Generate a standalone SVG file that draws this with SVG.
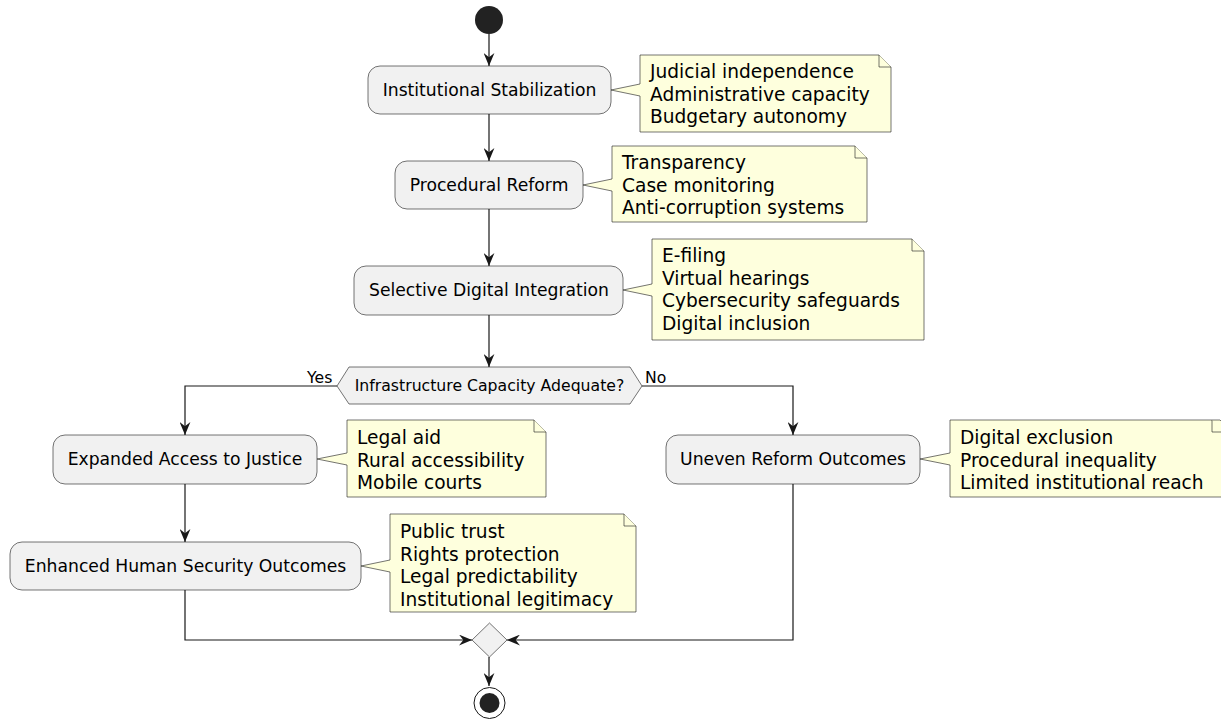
<svg xmlns="http://www.w3.org/2000/svg" width="1221" height="719" viewBox="0 0 1221 719">
<style>
.box{fill:#F1F1F1;stroke:#181818;stroke-width:0.6}
.note{fill:#FEFFDD;stroke:#181818;stroke-width:0.6}
.bt{font-family:"DejaVu Sans",sans-serif;font-size:17.2px;fill:#000;text-anchor:middle}
.nt{font-family:"DejaVu Sans",sans-serif;font-size:18.6px;fill:#000}
.ht{font-family:"DejaVu Sans",sans-serif;font-size:15.7px;fill:#000;text-anchor:middle}
.lt{font-family:"DejaVu Sans",sans-serif;font-size:15.7px;fill:#000}
.edge{fill:none;stroke:#181818;stroke-width:1.2}
</style>
<defs>
<marker id="ah" viewBox="0 0 12 10" refX="12" refY="5" markerWidth="13" markerHeight="11" markerUnits="userSpaceOnUse" orient="auto">
<path d="M0,0 L12,5 L0,10 L4,5 Z" fill="#181818"/>
</marker>
</defs>
<rect width="1221" height="719" fill="#FFFFFF"/>
<g id="connectors">
<path class="edge" d="M489,34 V66" marker-end="url(#ah)"/>
<path class="edge" d="M489,114 V161" marker-end="url(#ah)"/>
<path class="edge" d="M489,209 V266" marker-end="url(#ah)"/>
<path class="edge" d="M489,315 V367" marker-end="url(#ah)"/>
<path class="edge" d="M337,386 H185 V435" marker-end="url(#ah)"/>
<path class="edge" d="M642,386 H793 V435" marker-end="url(#ah)"/>
<path class="edge" d="M185,484 V542" marker-end="url(#ah)"/>
<path class="edge" d="M185,590 V640 H472" marker-end="url(#ah)"/>
<path class="edge" d="M793,484 V640 H507" marker-end="url(#ah)"/>
<path class="edge" d="M489,657 V686" marker-end="url(#ah)"/>
<text class="lt" x="307" y="383">Yes</text>
<text class="lt" x="645" y="383">No</text>
</g>
<g id="start"><circle cx="489" cy="20" r="14" fill="#222222"/></g>
<g id="n1">
<rect class="box" x="368" y="66" width="243" height="48" rx="12"/>
<text class="bt" x="489.5" y="96">Institutional Stabilization</text>
</g>
<g id="note1">
<path class="note" d="M640,55 V84 L611,90 L640,96 V132 H891 V67 L879,55 Z"/>
<path class="note" d="M879,55 V67 H891"/>
<text class="nt" x="650" y="78">Judicial independence</text>
<text class="nt" x="650" y="100.5">Administrative capacity</text>
<text class="nt" x="650" y="123">Budgetary autonomy</text>
</g>
<g id="n2">
<rect class="box" x="395" y="161" width="188" height="48" rx="12"/>
<text class="bt" x="489" y="191">Procedural Reform</text>
</g>
<g id="note2">
<path class="note" d="M612,146 V179 L583,185 L612,191 V222 H867 V158 L855,146 Z"/>
<path class="note" d="M855,146 V158 H867"/>
<text class="nt" x="622" y="169">Transparency</text>
<text class="nt" x="622" y="191.5">Case monitoring</text>
<text class="nt" x="622" y="214">Anti-corruption systems</text>
</g>
<g id="n3">
<rect class="box" x="354" y="266" width="269" height="49" rx="12"/>
<text class="bt" x="489" y="296">Selective Digital Integration</text>
</g>
<g id="note3">
<path class="note" d="M652,239 V284 L623,290 L652,296 V340 H924 V251 L912,239 Z"/>
<path class="note" d="M912,239 V251 H924"/>
<text class="nt" x="662" y="262">E-filing</text>
<text class="nt" x="662" y="284.7">Virtual hearings</text>
<text class="nt" x="662" y="307.4">Cybersecurity safeguards</text>
<text class="nt" x="662" y="330">Digital inclusion</text>
</g>
<g id="decision">
<path class="box" d="M337,386 L349,367 H630 L642,386 L630,404 H349 Z"/>
<text class="ht" x="489.5" y="391">Infrastructure Capacity Adequate?</text>
</g>
<g id="n4">
<rect class="box" x="53" y="435" width="264" height="49" rx="12"/>
<text class="bt" x="185" y="465">Expanded Access to Justice</text>
</g>
<g id="note4">
<path class="note" d="M347,420 V453 L317,459 L347,465 V497 H546 V432 L534,420 Z"/>
<path class="note" d="M534,420 V432 H546"/>
<text class="nt" x="357" y="444">Legal aid</text>
<text class="nt" x="357" y="466.5">Rural accessibility</text>
<text class="nt" x="357" y="489">Mobile courts</text>
</g>
<g id="n5">
<rect class="box" x="666" y="435" width="254" height="49" rx="12"/>
<text class="bt" x="793" y="465">Uneven Reform Outcomes</text>
</g>
<g id="note5">
<path class="note" d="M950,420 V453 L920,459 L950,465 V497 H1232 V432 L1220,420 Z"/>
<path class="note" d="M1212,420 V432 H1224"/>
<text class="nt" x="960" y="444">Digital exclusion</text>
<text class="nt" x="960" y="466.5">Procedural inequality</text>
<text class="nt" x="960" y="489">Limited institutional reach</text>
</g>
<g id="n6">
<rect class="box" x="10" y="542" width="351" height="48" rx="12"/>
<text class="bt" x="185.5" y="572">Enhanced Human Security Outcomes</text>
</g>
<g id="note6">
<path class="note" d="M390,514 V560 L361,566 L390,572 V612 H636 V526 L624,514 Z"/>
<path class="note" d="M624,514 V526 H636"/>
<text class="nt" x="400" y="538">Public trust</text>
<text class="nt" x="400" y="560.7">Rights protection</text>
<text class="nt" x="400" y="583.4">Legal predictability</text>
<text class="nt" x="400" y="606">Institutional legitimacy</text>
</g>
<g id="merge">
<path class="box" d="M489.5,623 L507,640 L489.5,657 L472,640 Z"/>
</g>
<g id="end">
<circle cx="489.5" cy="703" r="15.5" fill="none" stroke="#181818" stroke-width="1"/>
<circle cx="489.5" cy="703" r="10" fill="#222222"/>
</g>
</svg>
